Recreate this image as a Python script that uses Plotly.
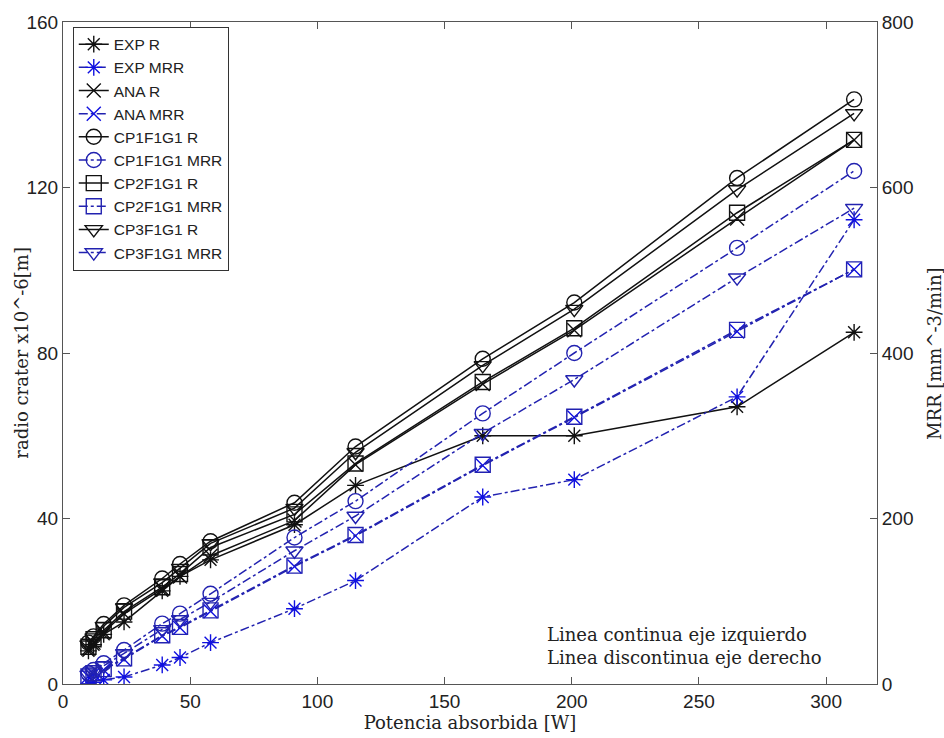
import plotly.graph_objects as go

# Absorbed power [W]
potencia = [10, 12, 16, 24, 39, 46, 58, 91, 115, 165, 201, 265, 311]

# Crater radius x10^-6 m (left axis)
exp_r = [8, 9.5, 12, 15, 22.5, 26, 30, 38.5, 48, 60, 60, 67, 85]
ana_r = [8.5, 10, 12.5, 17, 23, 26, 31, 39.5, 53, 72.5, 85.5, 112.5, 131.5]
cp1_r = [10, 11.5, 14.5, 19, 25.5, 29, 34.5, 43.8, 57.4, 78.6, 92.2, 122.3, 141.3]
cp2_r = [9, 10.8, 13, 17.5, 23.4, 26.6, 33, 41, 53.3, 73, 86, 113.9, 131.5]
cp3_r = [9.5, 11.2, 14, 18.5, 24.5, 28, 34, 42.5, 56, 77, 90.6, 119.5, 137.9]

# Material removal rate mm^3/min (right axis)
exp_mrr = [0, 2, 5, 8.5, 23, 32, 50, 91, 125, 226, 247, 347, 561]
ana_mrr = [9, 12, 17, 30, 58, 68, 88, 142, 179, 264, 322, 426, 501]
cp1_mrr = [13, 17, 25, 41, 73, 85, 109, 177, 221, 327, 400, 527, 620]
cp2_mrr = [9, 13, 18, 31, 59, 69, 89, 143, 180, 265, 323, 428, 501]
cp3_mrr = [11, 15, 22, 37, 66, 78, 99, 161, 203, 303, 368, 491, 575]

BLACK = "#111111"
BLUE = "#2222b0"
MARK_BLUE = "#1010e0"

series = [
    ("EXP R", exp_r, "y", BLACK, "solid", "asterisk-open", BLACK),
    ("EXP MRR", exp_mrr, "y2", BLUE, "dashdot", "asterisk-open", MARK_BLUE),
    ("ANA R", ana_r, "y", BLACK, "solid", "x-thin-open", BLACK),
    ("ANA MRR", ana_mrr, "y2", BLUE, "dashdot", "x-thin-open", MARK_BLUE),
    ("CP1F1G1 R", cp1_r, "y", BLACK, "solid", "circle-open", BLACK),
    ("CP1F1G1 MRR", cp1_mrr, "y2", BLUE, "dashdot", "circle-open", BLUE),
    ("CP2F1G1 R", cp2_r, "y", BLACK, "solid", "square-open", BLACK),
    ("CP2F1G1 MRR", cp2_mrr, "y2", BLUE, "dashdot", "square-open", BLUE),
    ("CP3F1G1 R", cp3_r, "y", BLACK, "solid", "triangle-down-open", BLACK),
    ("CP3F1G1 MRR", cp3_mrr, "y2", BLUE, "dashdot", "triangle-down-open", BLUE),
]

fig = go.Figure()
for name, vals, yax, lc, dash, sym, mc in series:
    size = 14 if sym in ("asterisk-open", "x-thin-open") else 15
    fig.add_trace(go.Scatter(
        x=potencia, y=vals, yaxis=yax, name=name, mode="lines+markers",
        line=dict(color=lc, width=1.5, dash=dash),
        marker=dict(symbol=sym, size=size, color=mc,
                    line=dict(color=mc, width=1.4)),
    ))

tick_font = dict(family="Liberation Sans, Arial, sans-serif", size=19, color="#222222")
title_font = dict(family="DejaVu Serif, serif", size=18, color="#222222")

fig.update_layout(
    width=944, height=738,
    margin=dict(l=63, r=67, t=18, b=54),
    paper_bgcolor="white", plot_bgcolor="white",
    showlegend=True,
    legend=dict(
        x=0.012, y=0.993, xanchor="left", yanchor="top",
        bgcolor="white", bordercolor="#333333", borderwidth=1,
        font=dict(family="Liberation Sans, Arial, sans-serif", size=15.5, color="#222222"),
        tracegroupgap=0,
    ),
    xaxis=dict(
        range=[0, 320], tickvals=[0, 50, 100, 150, 200, 250, 300],
        ticks="inside", ticklen=7, tickcolor="#555555",
        showline=True, linecolor="#555555", linewidth=1, mirror="ticks",
        showgrid=False, zeroline=False, tickfont=tick_font,
        title=dict(text="Potencia absorbida [W]", font=title_font, standoff=2),
    ),
    yaxis=dict(
        range=[0, 160], tickvals=[0, 40, 80, 120, 160],
        ticks="inside", ticklen=7, tickcolor="#555555",
        showline=True, linecolor="#555555", linewidth=1,
        showgrid=False, zeroline=False, tickfont=tick_font,
    ),
    yaxis2=dict(
        range=[0, 800], tickvals=[0, 200, 400, 600, 800],
        overlaying="y", side="right",
        ticks="inside", ticklen=7, tickcolor="#555555",
        showline=True, linecolor="#555555", linewidth=1,
        showgrid=False, zeroline=False, tickfont=tick_font,
    ),
)

# Axis titles placed as rotated annotations for finer positioning
fig.add_annotation(
    xref="paper", yref="paper", x=-0.052, y=0.5, xanchor="center", yanchor="middle",
    text="radio crater x10^-6[m]", textangle=-90, showarrow=False, font=title_font,
)
fig.add_annotation(
    xref="paper", yref="paper", x=1.07, y=0.5, xanchor="center", yanchor="middle",
    text="MRR [mm^-3/min]", textangle=-90, showarrow=False, font=title_font,
)

fig.add_annotation(
    xref="paper", yref="paper", x=0.592, y=0.057,
    xanchor="left", yanchor="middle", align="left", showarrow=False,
    text="Linea continua eje izquierdo<br>Linea discontinua eje derecho",
    font=dict(family="DejaVu Serif, serif", size=18, color="#222222"),
)

fig.write_html("out.html")
